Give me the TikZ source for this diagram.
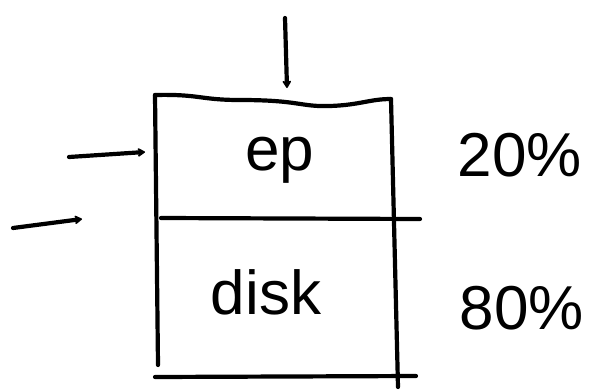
\documentclass[tikz,border=0pt]{standalone}
\usepackage{fontspec}
\setmainfont{Liberation Sans}
\usetikzlibrary{arrows.meta}
\begin{document}
\begin{tikzpicture}[x=1pt,y=-1pt,line width=4.2pt,line cap=round,line join=round,
  arr/.style={-{Stealth[length=9pt,width=11pt,round]}},
  lbl/.style={font=\fontsize{62}{62}\selectfont,inner sep=0pt}]
\useasboundingbox (0,0) rectangle (598,389);
% box corners
\coordinate (tl) at (155,95);
\coordinate (tr) at (391,99);
\coordinate (ml) at (161,218);
\coordinate (mr) at (420,219);
\coordinate (bl) at (155,377);
\coordinate (br) at (416,376);
\coordinate (lb) at (158,365);
\coordinate (rb) at (398,387);
% box
\draw (tl) .. controls (200,94) and (200,100) .. (240,100) .. controls (300,100) and (300,107) .. (330,106) .. controls (360,105) and (370,99) .. (tr);
\draw (tl) -- (lb);
\draw (tr) -- (rb);
\draw (ml) -- (mr);
\draw (bl) -- (br);
% texts
\node[lbl] (ep) at (280,160) {ep};
\node[lbl] (disk) at (266,292) {disk};
\node[lbl] (p20) at (520,155) {20\%};
\node[lbl] (p80) at (522,308) {80\%};
% arrows
\coordinate (t0) at (285,18);
\coordinate (t1) at (287,88);
\draw[arr] (t0) -- (t1);
\coordinate (a0) at (69,157);
\coordinate (a1) at (145,152);
\draw[arr] (a0) -- (a1);
\coordinate (b0) at (13,228);
\coordinate (b1) at (82,219);
\draw[arr] (b0) -- (b1);
\end{tikzpicture}
\end{document}
